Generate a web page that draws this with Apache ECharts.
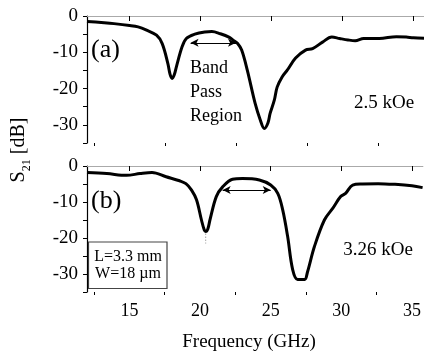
<!DOCTYPE html>
<html>
<head>
<meta charset="utf-8">
<script src="https://cdn.jsdelivr.net/npm/echarts@6/dist/echarts.min.js"></script>
<style>
  html, body { margin: 0; padding: 0; background: #fff; }
  #chart { width: 424px; height: 355px; }
</style>
</head>
<body>
<div id="chart"></div>
<script>
// panel (a) 2.5 kOe
const freqA = [12.0, 13.0, 13.9, 15.0, 15.6, 16.2, 16.9, 17.3, 17.7, 17.85, 18.0, 18.15, 18.3, 18.7, 19.0, 19.6, 20.3, 20.8, 21.4, 22.0, 22.3, 22.6, 22.9, 23.3, 23.85, 24.2, 24.5, 24.75, 24.9, 25.2, 25.4, 25.75, 26.1, 26.7, 27.4, 27.9, 28.6, 29.25, 29.8, 30.4, 30.9, 31.5, 32.6, 33.8, 34.5, 35.0, 35.75]
const s21A = [-1.5, -1.8, -2.1, -2.6, -3.0, -3.9, -5.3, -7.6, -13.1, -16.0, -17.2, -16.2, -14.0, -8.5, -6.2, -5.0, -4.4, -4.3, -4.9, -5.8, -6.7, -7.5, -9.4, -15.0, -24.1, -28.5, -31.0, -29.5, -26.9, -23.2, -19.6, -16.8, -15.0, -11.6, -9.4, -9.0, -7.2, -5.8, -6.2, -6.6, -6.8, -6.2, -6.2, -5.7, -5.8, -6.0, -6.1]

// panel (b) 3.26 kOe
const freqB = [12.0, 13.4, 14.8, 15.75, 16.6, 17.6, 18.55, 19.0, 19.4, 19.75, 20.1, 20.3, 20.4, 20.55, 20.7, 21.15, 21.6, 22.3, 23.0, 24.2, 25.0, 25.5, 25.85, 26.2, 26.55, 26.9, 27.4, 27.6, 28.1, 28.8, 29.4, 29.95, 30.3, 30.8, 31.5, 32.6, 33.8, 35.0, 35.75]
const s21B = [-1.8, -2.1, -2.6, -2.1, -1.8, -3.0, -4.1, -4.9, -6.7, -9.4, -15.0, -17.8, -18.2, -17.5, -15.0, -8.5, -5.8, -3.7, -3.5, -3.9, -5.3, -7.6, -12.2, -19.6, -28.7, -31.5, -31.5, -29.5, -22.3, -15.0, -11.7, -8.5, -7.6, -5.3, -5.0, -4.9, -5.1, -5.5, -6.0]

// band pass arrows [from, to] and level
const bandA = [19.3, 22.5]
const bandLevelA = -7.4
const bandB = [21.6, 25.0]
const bandLevelB = -6.7
// dotted mark under first dip of (b)
const dipMarkB = [20.4, -18.8, -21.5]

const majorTicks = [15, 20, 25, 30, 35]
const minorTicks = [12.5, 17.5, 22.5, 27.5, 32.5]

const FONT = '"Liberation Serif", "Times New Roman", serif'
const chart = echarts.init(document.getElementById('chart'))

const zip = (xs, ys) => xs.map((x, i) => [x, ys[i]])

const xAxesFor = (g, showLabels) => [
  {
    type: 'value', gridIndex: g, position: 'bottom', min: 12, max: 35.75,
    axisLine: { lineStyle: { color: '#000', width: 1.2 } },
    axisTick: { inside: false, length: 5, customValues: majorTicks, lineStyle: { color: '#000' } },
    axisLabel: { show: showLabels, customValues: majorTicks, fontFamily: FONT, fontSize: 18, color: '#000', margin: 10 },
    splitLine: { show: false }
  },
  {
    type: 'value', gridIndex: g, position: 'bottom', min: 12, max: 35.75,
    axisLine: { show: false },
    axisTick: { length: 3, customValues: minorTicks, lineStyle: { color: '#000' } },
    axisLabel: { show: false },
    splitLine: { show: false }
  },
  {
    type: 'value', gridIndex: g, position: 'top', min: 12, max: 35.75,
    axisLine: { lineStyle: { color: '#aaa', width: 1 } },
    axisTick: { show: false }, axisLabel: { show: false }, splitLine: { show: false }
  }
]

const yAxisFor = g => ({
  type: 'value', gridIndex: g, min: -35, max: 0, interval: 5,
  axisLine: { show: true, lineStyle: { color: '#000', width: 1.2 } },
  axisTick: { show: true, length: 4, lineStyle: { color: '#000' } },
  axisLabel: {
    fontFamily: FONT, fontSize: 19, color: '#000', margin: 9,
    formatter: v => (v % 10 === 0 ? String(v) : '')
  },
  splitLine: { show: false }
})

const arrowLine = (band, level) => ({
  silent: true,
  symbol: ['arrow', 'arrow'],
  symbolSize: [6, 8],
  label: { show: false },
  lineStyle: { color: '#000', width: 1, type: 'solid' },
  data: [[{ coord: [band[0], level] }, { coord: [band[1], level] }]]
})

const curve = (name, x, y, xi, yi) => ({
  name, type: 'line', xAxisIndex: xi, yAxisIndex: yi,
  data: zip(x, y), smooth: 0.35, showSymbol: false,
  lineStyle: { color: '#000', width: 3 },
  animation: false
})

const seriesA = curve('a', freqA, s21A, 0, 0)
seriesA.markLine = arrowLine(bandA, bandLevelA)
const seriesB = curve('b', freqB, s21B, 3, 1)
seriesB.markLine = arrowLine(bandB, bandLevelB)

const dipSeries = {
  type: 'line', xAxisIndex: 3, yAxisIndex: 1,
  data: [[dipMarkB[0], dipMarkB[1]], [dipMarkB[0], dipMarkB[2]]],
  showSymbol: false, lineStyle: { color: '#777', width: 1, type: [1, 2] }, animation: false
}

const label = (x, y, text, size, align) => ({
  type: 'text', x, y,
  style: { text, fontFamily: FONT, fontSize: size, fill: '#000', align: align || 'left', verticalAlign: 'middle' }
})

chart.setOption({
  backgroundColor: '#fff',
  animation: false,
  grid: [
    { left: 87, right: 0, top: 16, height: 127 },
    { left: 87, right: 0, top: 166, height: 126 }
  ],
  xAxis: [...xAxesFor(0, false), ...xAxesFor(1, true)],
  yAxis: [yAxisFor(0), yAxisFor(1)],
  series: [seriesA, seriesB, dipSeries],
  graphic: [
    label(91, 50, '(a)', 26),
    label(91, 201, '(b)', 26),
    label(190, 68, 'Band', 18),
    label(190, 92, 'Pass', 18),
    label(190, 116, 'Region', 18),
    label(384, 103, '2.5 kOe', 19, 'center'),
    label(378, 250, '3.26 kOe', 19, 'center'),
    { type: 'rect', shape: { x: 88.5, y: 242, width: 78.5, height: 46.5 }, style: { fill: '#fff', stroke: '#444', lineWidth: 1.2 } },
    label(128, 257, 'L=3.3 mm', 16, 'center'),
    label(128, 274, 'W=18 µm', 16, 'center'),
    label(249, 342, 'Frequency (GHz)', 19, 'center'),
    {
      type: 'text', x: 18, y: 150, rotation: Math.PI / 2,
      style: {
        text: '{n|S}{s|21}{n| [dB]}', align: 'center', verticalAlign: 'middle',
        rich: {
          n: { fontFamily: FONT, fontSize: 20, fill: '#000', lineHeight: 22, verticalAlign: 'bottom' },
          s: { fontFamily: FONT, fontSize: 12, fill: '#000', lineHeight: 22, verticalAlign: 'bottom', padding: [0, 0, -4, 0] }
        }
      }
    }
  ]
})
</script>
</body>
</html>
